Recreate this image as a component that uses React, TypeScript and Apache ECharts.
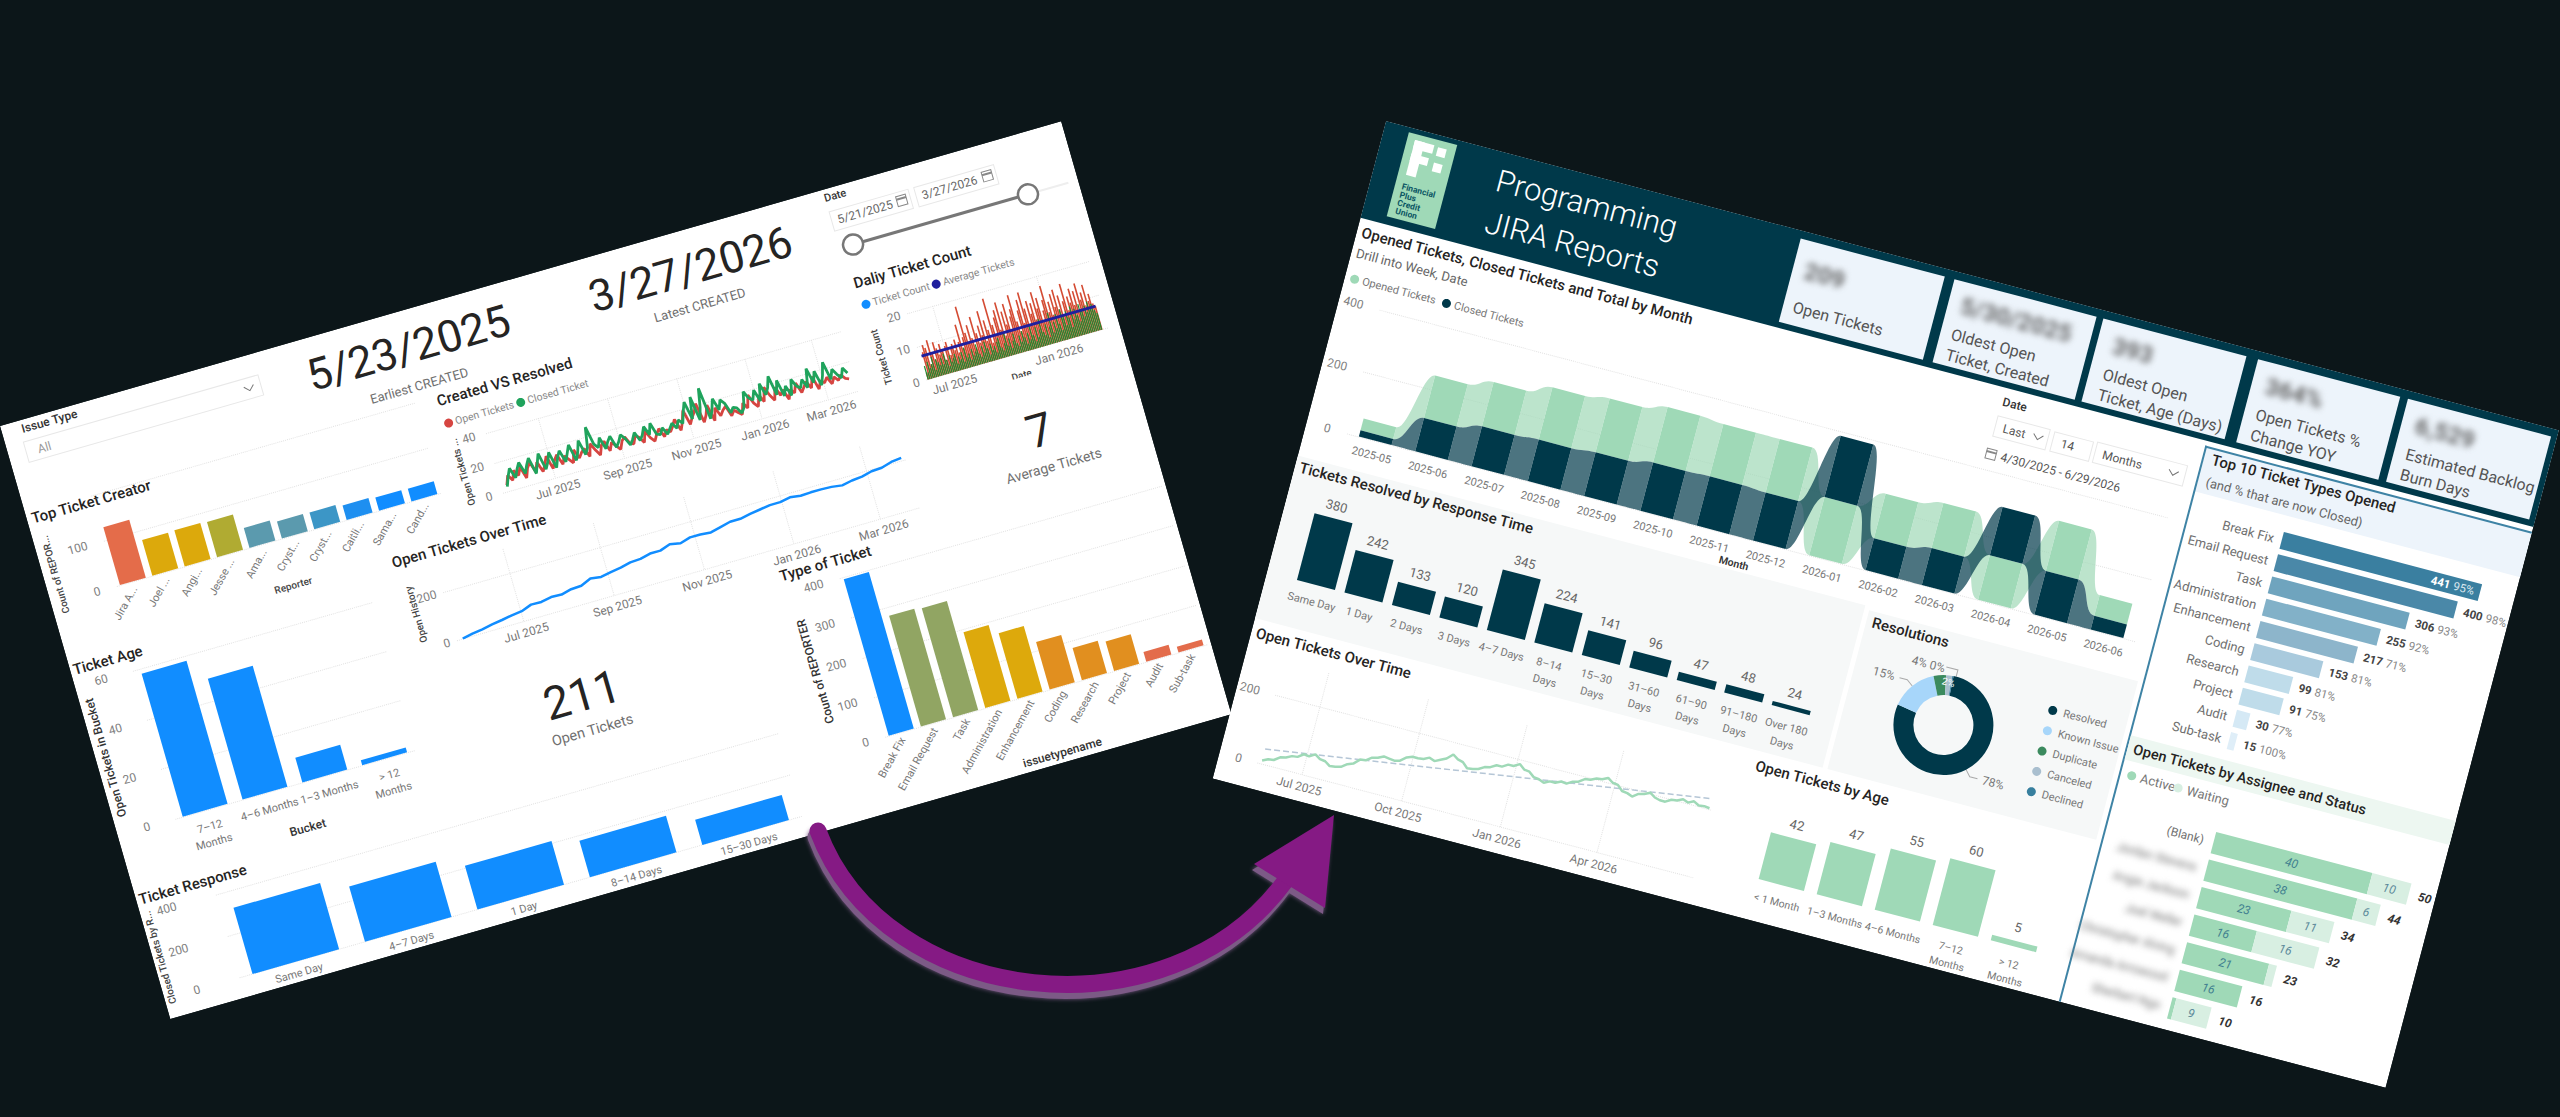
import React, { useEffect, useRef } from "react";
import * as echarts from "echarts";

// ---------- data: left dashboard ----------
const creatorNames = ["Jira A...", "Joel ...", "Angi...", "Jesse ...", "Ama...", "Cryst...", "Cryst...", "Caitli...", "Sama...", "Cand..."];
const creatorValues = [128, 79, 80, 78, 44, 38, 37, 32, 29, 28];
const creatorColors = ["#E46C4A", "#DCA90C", "#DCA90C", "#B0AB32", "#5B9AAE", "#5B9AAE", "#3C96C6", "#1E8FF0", "#118DFF", "#118DFF"];

const ticketTypeNames = ["Break Fix", "Email Request", "Task", "Administration", "Enhancement", "Coding", "Research", "Project", "Audit", "Sub-task"];
const ticketTypeValues = [396, 280, 276, 192, 166, 120, 82, 75, 25, 15];
const ticketTypeColors = ["#118DFF", "#91A563", "#91A563", "#DDA90C", "#DDA90C", "#E18F1F", "#E18F1F", "#E18F1F", "#E36C4B", "#E36C4B"];

const ageBuckets = ["7–12\nMonths", "4–6 Months", "1–3 Months", "> 12\nMonths"];
const ageValues = [58, 49, 10, 2];

const responseBuckets = ["Same Day", "4–7 Days", "1 Day", "8–14 Days", "15–30 Days"];
const responseValues = [319, 266, 210, 176, 121];

const createdLine = [
  4, 10, 6, 12, 8, 13, 5, 11, 14, 7, 13, 6, 10, 15, 6, 11, 14, 7, 12, 9, 6, 14, 8, 11, 13, 7, 15, 10, 6, 12,
  14, 7, 12, 9, 6, 11, 13, 8, 7, 12, 10, 6, 13, 8, 5, 9, 12, 6, 10, 8, 11, 15, 7, 12, 19, 9, 13, 16, 21, 8,
  12, 18, 7, 15, 9, 12, 14, 7, 10, 8, 6, 13, 9, 17, 11, 8, 15, 10, 19, 13, 9, 17, 11, 14, 7, 13, 10, 16, 9, 12,
  15, 10, 17, 8, 13, 11, 14, 9, 13, 10, 13, 10, 9,
];
const resolvedLine = [
  3, 9, 14, 7, 12, 16, 8, 13, 17, 6, 12, 18, 7, 11, 17, 6, 12, 16, 8, 13, 18, 7, 12, 19, 9, 13, 26, 14, 11, 17,
  9, 13, 16, 8, 11, 15, 12, 7, 10, 14, 8, 11, 16, 10, 17, 9, 8, 12, 7, 10, 13, 9, 14, 11, 18, 24, 12, 26, 10, 18,
  30, 9, 14, 21, 13, 19, 16, 9, 12, 11, 7, 10, 20, 15, 13, 19, 11, 22, 14, 18, 25, 12, 21, 10, 16, 9, 19, 14, 12, 17,
  11, 23, 13, 20, 10, 16, 24, 12, 18, 14, 11, 17, 13,
];
const openHistory = [
  0, 8, 14, 22, 28, 35, 40, 55, 54, 62, 60, 70, 72, 90, 84, 92, 98, 108, 110, 120, 120, 134, 126, 138, 138, 134,
  144, 154, 154, 162, 168, 174, 174, 182, 176, 178, 178, 176, 170, 178, 182, 192, 194, 206, 211,
];
const dailyOpened = [
  2, 8, 10, 9, 4, 11, 7, 5, 10, 8, 6, 9, 7, 4, 8, 9, 5, 7, 8, 6, 9, 5, 8, 13, 6, 9, 18, 10, 7, 12,
  8, 5, 14, 9, 6, 11, 8, 15, 6, 12, 9, 5, 18, 10, 7, 12, 14, 8, 16, 6, 13, 9, 15, 7, 11, 13, 17, 9, 6, 12,
  15, 8, 17, 12, 7, 14, 10, 13, 8, 16, 11, 14, 7, 10, 13, 17, 9, 12, 8, 14, 10, 15, 9, 13, 7, 11, 16, 8, 12, 10,
  14, 9, 13, 7, 15, 10, 12, 8, 14, 9, 11, 8, 7,
];
const dailyClosed = [
  4, 2, 5, 3, 4, 6, 2, 5, 4, 3, 5, 3, 6, 4, 2, 5, 3, 4, 5, 2, 4, 3, 5, 2, 6, 3, 4, 2, 5, 3,
  4, 6, 3, 2, 5, 3, 6, 4, 2, 5, 3, 4, 2, 5, 6, 3, 2, 4, 7, 3, 5, 2, 4, 6, 3, 2, 5, 3, 6, 4,
  2, 5, 3, 7, 4, 2, 6, 3, 5, 8, 4, 3, 6, 2, 5, 9, 3, 6, 4, 8, 5, 3, 9, 7, 4, 8, 6, 3, 9, 5,
  8, 6, 4, 9, 7, 5, 8, 6, 9, 7, 8, 6, 5,
];
const dailyAverage = [7, 7];

// ---------- data: right dashboard ----------
const months = ["2025-05", "2025-06", "2025-07", "2025-08", "2025-09", "2025-10", "2025-11", "2025-12", "2026-01", "2026-02", "2026-03", "2026-04", "2026-05", "2026-06"];
const openedMonthly = [38, 137, 143, 169, 174, 179, 169, 173, 188, 144, 146, 144, 162, 67];
const closedMonthly = [20, 108, 129, 134, 141, 156, 159, 155, 198, 103, 119, 156, 141, 44];

const resolvedBuckets = ["Same Day", "1 Day", "2 Days", "3 Days", "4–7 Days", "8–14\nDays", "15–30\nDays", "31–60\nDays", "61–90\nDays", "91–180\nDays", "Over 180\nDays"];
const resolvedValues = [380, 242, 133, 120, 345, 224, 141, 96, 47, 48, 24];

const resolutionNames = ["Resolved", "Known Issue", "Duplicate", "Canceled", "Declined"];
const resolutionValues = [78, 15, 4, 2, 0.4];
const resolutionColors = ["#00394A", "#A7D6FA", "#3B8A5E", "#A9BFCF", "#377F9E"];

const openAgeBuckets = ["< 1 Month", "1–3 Months", "4–6 Months", "7–12\nMonths", "> 12\nMonths"];
const openAgeValues = [42, 47, 55, 60, 5];

const topTypeNames = ["Break Fix", "Email Request", "Task", "Administration", "Enhancement", "Coding", "Research", "Project", "Audit", "Sub-task"];
const topTypeValues = [441, 400, 306, 255, 217, 153, 99, 91, 30, 15];
const topTypePercents = [95, 98, 93, 92, 71, 81, 81, 75, 77, 100];
const topTypeColors = ["#3A7FA0", "#4A88A8", "#6FA4BE", "#82B1C8", "#8DB5CB", "#A9CADD", "#BFDCEA", "#BFDCEA", "#D5E9F5", "#DFEEF8"];

const assignees = ["(Blank)", "Jordan Stevens", "Angie Jackson", "Joel Weller", "Christopher Alving", "Amanda Arrowood", "Sherbert Ngo"];
const assigneeActive = [40, 38, 23, 16, 21, 16, 1];
const assigneeWaiting = [10, 6, 11, 16, 2, 0, 9];
const assigneeTotals = [50, 44, 34, 32, 23, 16, 10];

const openOverTime = [
  10, 18, 20, 32, 36, 44, 46, 58, 56, 66, 56, 54, 44, 46, 50, 62, 68, 84, 86, 98, 102, 110, 108, 106, 110, 124, 130, 130, 132, 140,
  134, 142, 150, 166, 156, 152, 138, 140, 144, 154, 158, 168, 168, 178, 178, 188, 176, 174, 162, 160, 154, 162, 162, 170, 168, 178,
  182, 194, 196, 204, 206, 214, 204, 202, 188, 186, 180, 192, 196, 204, 194, 190, 190, 200, 202, 210, 204, 212, 204, 206, 204,
];
const openTrend = [44, 232];

const kpiValues = ["209", "5/30/2025", "393", "364%", "6,529"];
const blurredTexts = new Set([...kpiValues, ...assignees.slice(1)]);

// ---------- helpers ----------
const FONT = "Roboto";
const DAY = 86400000;
const MON = ["Jan", "Feb", "Mar", "Apr", "May", "Jun", "Jul", "Aug", "Sep", "Oct", "Nov", "Dec"];
const d = (y: number, m: number, day: number) => new Date(y, m - 1, day).getTime();
const monthLabel = (v: number) => {
  const t = new Date(v);
  return MON[t.getMonth()] + " " + t.getFullYear();
};
const dated = (start: number, step: number, vals: number[]) => vals.map((v, i) => [start + i * step * DAY, v]);

type P = { grid: any[]; xAxis: any[]; yAxis: any[]; series: any[]; graphic: any[] };
const newPanel = (): P => ({ grid: [], xAxis: [], yAxis: [], series: [], graphic: [] });

const T = (p: P, x: number, y: number, text: string, o: any = {}) =>
  p.graphic.push({
    type: "text",
    x,
    y,
    rotation: o.rot || 0,
    silent: true,
    z: o.z || 0,
    style: {
      text,
      fontFamily: FONT,
      fontSize: o.size || 12,
      fontWeight: o.weight || 400,
      fill: o.color || "#666666",
      align: o.align || "left",
      verticalAlign: "middle",
    },
  });
const R = (p: P, x: number, y: number, width: number, height: number, fill: string, stroke?: string, z = 0) =>
  p.graphic.push({ type: "rect", silent: true, z, shape: { x, y, width, height }, style: { fill, stroke: stroke || "none", lineWidth: stroke ? 1 : 0 } });
const C = (p: P, cx: number, cy: number, r: number, fill: string, stroke?: string, lw = 2) =>
  p.graphic.push({ type: "circle", silent: true, z: 1, shape: { cx, cy, r }, style: { fill, stroke: stroke || "none", lineWidth: stroke ? lw : 0 } });
const L = (p: P, x1: number, y1: number, x2: number, y2: number, stroke: string, lineWidth = 1) =>
  p.graphic.push({ type: "line", silent: true, shape: { x1, y1, x2, y2 }, style: { stroke, lineWidth } });
const Chevron = (p: P, x: number, y: number) =>
  p.graphic.push({
    type: "polyline",
    silent: true,
    shape: { points: [[x - 5, y - 3], [x, y + 2], [x + 5, y - 3]] },
    style: { stroke: "#777", lineWidth: 1, fill: "none" },
  });
const Calendar = (p: P, x: number, y: number) => {
  R(p, x - 5, y - 5, 10, 10, "#ffffff", "#888888");
  L(p, x - 5, y - 2, x + 5, y - 2, "#888888", 2);
};
const addGrid = (p: P, g: any, x: any, y: any) => {
  const i = p.grid.length;
  p.grid.push({ ...g });
  p.xAxis.push({ gridIndex: i, ...x });
  p.yAxis.push({ gridIndex: i, ...y });
  return i;
};
const dotted = { lineStyle: { type: "dotted", color: "#e2e2e2", width: 1 } };
const yVal = (max: number, interval: number, margin: number) => {
  const hide = max % interval !== 0;
  return {
    type: "value",
    min: 0,
    max,
    interval,
    axisLabel: { color: "#808080", fontSize: 12, fontFamily: FONT, margin, showMaxLabel: !hide },
    splitLine: { show: true, showMaxLine: !hide, ...dotted },
    axisLine: { show: false },
    axisTick: { show: false },
  };
};
const xCat = (data: string[], o: any = {}) => ({
  type: "category",
  data,
  axisLine: { show: false },
  axisTick: { show: false },
  axisLabel: { interval: 0, color: "#777777", fontSize: 12, fontFamily: FONT, lineHeight: 16, margin: 8, ...o },
});
const xTime = (min: number, max: number, ticks: number[]) => ({
  type: "value",
  min,
  max,
  scale: true,
  axisLine: { show: false },
  axisTick: { show: false, customValues: ticks },
  axisLabel: { customValues: ticks, formatter: (v: number) => monthLabel(v), color: "#777777", fontSize: 12, fontFamily: FONT, margin: 6, hideOverlap: false },
  splitLine: { show: true, ...dotted },
});
const hiddenY = (max: number) => ({ type: "value", min: 0, max, show: false, splitLine: { show: false } });
const coloured = (vals: number[], colors: string[]) => vals.map((value, i) => ({ value, itemStyle: { color: colors[i] } }));

// ---------- left panel ----------
function buildLeft() {
  const p = newPanel();
  const title = (x: number, y: number, s: string) => T(p, x, y, s, { size: 15, weight: 500, color: "#252423" });

  T(p, 20, 9, "Issue Type", { size: 12, weight: 500, color: "#333" });
  R(p, 18, 22, 244, 21, "#ffffff", "#e8e8e8");
  T(p, 30, 33, "All", { size: 12, color: "#999" });
  Chevron(p, 250, 33);

  T(p, 414, 38, "5/23/2025", { size: 44, align: "center", color: "#252423" });
  T(p, 414, 77, "Earliest CREATED", { size: 13, align: "center", color: "#707070" });
  T(p, 707, 40, "3/27/2026", { size: 44, align: "center", color: "#252423" });
  T(p, 706, 77, "Latest CREATED", { size: 13, align: "center", color: "#707070" });

  T(p, 855, 9, "Date", { size: 11, weight: 500, color: "#333" });
  R(p, 856, 23, 82, 20, "#ffffff", "#e8e8e8");
  R(p, 944, 23, 83, 20, "#ffffff", "#e8e8e8");
  T(p, 862, 33, "5/21/2025", { size: 12, color: "#666" });
  T(p, 950, 33, "3/27/2026", { size: 12, color: "#666" });
  Calendar(p, 929, 32);
  Calendar(p, 1018, 32);
  L(p, 1052, 61, 1094, 61, "#eeeeee", 2);
  L(p, 870, 61, 1052, 61, "#777777", 3);
  C(p, 870, 61, 10, "#ffffff", "#777777", 2.5);
  C(p, 1052, 61, 10, "#ffffff", "#777777", 2.5);

  // Created VS Resolved
  title(427, 97, "Created VS Resolved");
  C(p, 432, 121, 4.5, "#D64541");
  T(p, 439, 121, "Open Tickets", { size: 10.5, color: "#888" });
  C(p, 507, 121, 4.5, "#1FA35C");
  T(p, 514, 121, "Closed Ticket", { size: 10.5, color: "#888" });
  T(p, 432, 172, "Open Tickets ...", { size: 10, weight: 500, color: "#444", rot: Math.PI / 2, align: "center" });
  const lineStart = d(2025, 5, 21);
  const g1 = addGrid(
    p,
    { left: 465, top: 141, width: 370, height: 62 },
    xTime(lineStart - 5 * DAY, lineStart + 311 * DAY, [d(2025, 7, 1), d(2025, 9, 1), d(2025, 11, 1), d(2026, 1, 1), d(2026, 3, 1)]),
    yVal(40, 20, 11)
  );
  p.series.push(
    { type: "line", xAxisIndex: g1, yAxisIndex: g1, data: dated(lineStart, 3, createdLine), showSymbol: false, lineStyle: { color: "#D64541", width: 2.8 }, itemStyle: { color: "#D64541" } },
    { type: "line", xAxisIndex: g1, yAxisIndex: g1, data: dated(lineStart, 3, resolvedLine), showSymbol: false, lineStyle: { color: "#1FA35C", width: 2.8 }, itemStyle: { color: "#1FA35C" } }
  );

  // Top Ticket Creator
  title(5, 98, "Top Ticket Creator");
  const g2 = addGrid(p, { left: 68, top: 92, width: 337, height: 94 }, xCat(creatorNames, { rotate: 45, fontSize: 11, margin: 6 }), yVal(200, 100, 17));
  p.yAxis[g2].axisLabel.formatter = (v: number) => (v > 100 ? "" : String(v));
  p.series.push({ type: "bar", xAxisIndex: g2, yAxisIndex: g2, data: coloured(creatorValues, creatorColors), barCategoryGap: "20%" });
  T(p, 238, 234, "Reporter", { size: 10, weight: 500, align: "center", color: "#444" });
  T(p, 12, 158, "Count of REPOR...", { size: 10, weight: 500, color: "#444", rot: Math.PI / 2, align: "center" });

  // Open Tickets Over Time
  title(339, 240, "Open Tickets Over Time");
  T(p, 348, 296, "Open History", { size: 10, weight: 500, color: "#444", rot: Math.PI / 2, align: "center" });
  const g3 = addGrid(
    p,
    { left: 380, top: 257, width: 482, height: 75 },
    xTime(lineStart - 4 * DAY, lineStart + 311 * DAY, [d(2025, 7, 1), d(2025, 9, 1), d(2025, 11, 1), d(2026, 1, 1), d(2026, 3, 1)]),
    yVal(300, 200, 7)
  );
  p.series.push({ type: "line", xAxisIndex: g3, yAxisIndex: g3, data: dated(lineStart, 7, openHistory), showSymbol: false, lineStyle: { color: "#118DFF", width: 2.5 } });

  // Daily Ticket Count
  T(p, 860, 99, "Daliy Ticket Count", { size: 15, weight: 500, color: "#252423" });
  C(p, 866, 122, 4.5, "#118DFF");
  T(p, 873, 122, "Ticket Count", { size: 10.5, color: "#888" });
  C(p, 939, 122, 4.5, "#1F1F9E");
  T(p, 946, 122, "Average Tickets", { size: 10.5, color: "#888" });
  T(p, 866, 177, "Ticket Count", { size: 10, weight: 500, color: "#444", rot: Math.PI / 2, align: "center" });
  const g4 = addGrid(
    p,
    { left: 903, top: 142, width: 189, height: 69.5 },
    xTime(lineStart - 3.4 * DAY, lineStart + 317 * DAY, [d(2025, 7, 1), d(2026, 1, 1)]),
    yVal(20, 10, 7)
  );
  p.series.push(
    { type: "bar", xAxisIndex: g4, yAxisIndex: g4, data: dated(lineStart, 3, dailyOpened), barWidth: 1.6, barGap: "-100%", itemStyle: { color: "#D44B33" } },
    { type: "bar", xAxisIndex: g4, yAxisIndex: g4, data: dated(lineStart, 3, dailyClosed), barWidth: 1.2, barGap: "-100%", itemStyle: { color: "#1F8A2E" } },
    { type: "line", xAxisIndex: g4, yAxisIndex: g4, data: dated(lineStart, 307, dailyAverage), showSymbol: false, lineStyle: { color: "#1F1F9E", width: 3 } }
  );
  T(p, 996, 233, "Date", { size: 10, weight: 500, align: "center", color: "#444" });
  R(p, 975, 235, 45, 8, "#ffffff", undefined, 10);

  T(p, 998, 291, "7", { size: 46, align: "center", color: "#252423" });
  T(p, 1002, 329, "Average Tickets", { size: 14, align: "center", color: "#707070" });
  T(p, 485, 419, "211", { size: 46, align: "center", color: "#252423" });
  T(p, 485.6, 456, "Open Tickets", { size: 14.5, align: "center", color: "#707070" });

  // Ticket Age
  title(3, 255, "Ticket Age");
  T(p, 10, 348, "Open Tickets in Bucket", { size: 12, weight: 500, color: "#333", rot: Math.PI / 2, align: "center" });
  const g5 = addGrid(p, { left: 60, top: 272, width: 249, height: 154 }, xCat(ageBuckets, { fontSize: 11, margin: 9 }), yVal(60, 20, 26));
  p.series.push({ type: "bar", xAxisIndex: g5, yAxisIndex: g5, data: ageValues, barCategoryGap: "25%", itemStyle: { color: "#118DFF" } });
  T(p, 185, 471, "Bucket", { size: 12, weight: 500, align: "center", color: "#333" });

  // Ticket Response
  title(3, 494, "Ticket Response");
  T(p, 7, 555, "Closed Tickets by R...", { size: 10, weight: 500, color: "#444", rot: Math.PI / 2, align: "center" });
  const g6 = addGrid(p, { left: 78, top: 510, width: 585, height: 86.5 }, xCat(responseBuckets, { fontSize: 11, margin: 4 }), yVal(400, 200, 41));
  p.series.push({ type: "bar", xAxisIndex: g6, yAxisIndex: g6, data: responseValues, barCategoryGap: "23%", itemStyle: { color: "#118DFF" } });

  // Type of Ticket
  title(708, 360, "Type of Ticket");
  T(p, 716, 461, "Count of REPORTER", { size: 12, weight: 500, color: "#333", rot: Math.PI / 2, align: "center" });
  const g7 = addGrid(p, { left: 765, top: 378.5, width: 335, height: 164.5 }, xCat(ticketTypeNames, { rotate: 45, fontSize: 11, margin: 6 }), yVal(400, 100, 17));
  p.series.push({ type: "bar", xAxisIndex: g7, yAxisIndex: g7, data: coloured(ticketTypeValues, ticketTypeColors), barCategoryGap: "22%" });
  T(p, 931, 607, "issuetypename", { size: 12, weight: 500, align: "center", color: "#333" });

  return { animation: false, backgroundColor: "#ffffff", ...p };
}

// ---------- right panel ----------
function ribbonItem(params: any, api: any) {
  const i = params.dataIndex;
  const band = api.size([1, 0])[0];
  const w = band * 0.58;
  const spans = (k: number) => {
    const o = openedMonthly[k];
    const c = closedMonthly[k];
    return o < c ? { opened: [0, o], closed: [o, o + c] } : { opened: [c, c + o], closed: [0, c] };
  };
  const children: any[] = [];
  const draw = (key: "opened" | "closed", solid: string, soft: string) => {
    const here = (spans(i) as any)[key];
    const [cx, y0] = api.coord([i, here[0]]);
    const y1 = api.coord([i, here[1]])[1];
    if (i < months.length - 1) {
      const next = (spans(i + 1) as any)[key];
      const [nx, ny0] = api.coord([i + 1, next[0]]);
      const ny1 = api.coord([i + 1, next[1]])[1];
      const a = cx + w / 2;
      const b = nx - w / 2;
      const m = (a + b) / 2;
      children.push({
        type: "path",
        shape: { pathData: `M${a} ${y1}C${m} ${y1} ${m} ${ny1} ${b} ${ny1}L${b} ${ny0}C${m} ${ny0} ${m} ${y0} ${a} ${y0}Z` },
        style: { fill: soft },
      });
    }
    children.push({ type: "rect", shape: { x: cx - w / 2, y: y1, width: w, height: y0 - y1 }, style: { fill: solid } });
  };
  draw("opened", "#9FD9B7", "rgba(159,217,183,0.7)");
  draw("closed", "#00394A", "rgba(0,57,74,0.7)");
  return { type: "group", children };
}

function buildRight() {
  const p = newPanel();
  const title = (x: number, y: number, s: string) => T(p, x, y, s, { size: 15, weight: 500, color: "#252423" });

  // header
  R(p, 0, 0, 1213, 100, "#00394A");
  R(p, 25, 5, 50, 87, "#9FD9B7");
  R(p, 33, 11, 10, 36, "#ffffff");
  R(p, 33, 11, 20, 9, "#ffffff");
  R(p, 33, 25, 18, 8, "#ffffff");
  R(p, 57, 12, 9, 9, "#ffffff");
  R(p, 57, 28, 9, 9, "#ffffff");
  ["Financial", "Plus", "Credit", "Union"].forEach((s, i) => T(p, 32, 59 + i * 8.4, s, { size: 8.5, weight: 700, color: "#0B5563" }));
  T(p, 122, 29, "Programming", { size: 31, weight: 300, color: "#ffffff" });
  T(p, 122, 72, "JIRA Reports", { size: 31, weight: 300, color: "#ffffff" });

  const cardX = [[431, 580], [590, 737], [744, 892], [904, 1051], [1059, 1207]];
  const cardText = [["Open Tickets"], ["Oldest Open", "Ticket, Created"], ["Oldest Open", "Ticket, Age (Days)"], ["Open Tickets %", "Change YOY"], ["Estimated Backlog", "Burn Days"]];
  const kpiX = [443, 603, 760, 918, 1073];
  cardX.forEach(([a, b], i) => {
    R(p, a, 8, b - a, 86, "#EDF4FB");
    T(p, kpiX[i], i === 0 ? 38 : 32, kpiValues[i], { size: 24, weight: 700, color: "#666" });
    cardText[i].forEach((s, j) => T(p, kpiX[i] - 2, (i === 0 ? 76 : 62) + j * 21, s, { size: 16, color: "#555" }));
  });

  // Ribbon
  title(5, 114, "Opened Tickets, Closed Tickets and Total by Month");
  T(p, 5, 135, "Drill into Week, Date", { size: 13, color: "#666" });
  C(p, 10, 161, 4.5, "#9FD9B7");
  T(p, 18, 161, "Opened Tickets", { size: 11, color: "#777" });
  C(p, 105, 161, 4.5, "#00394A");
  T(p, 113, 161, "Closed Tickets", { size: 11, color: "#777" });
  const g1 = addGrid(p, { left: 42, top: 184, width: 815, height: 128 }, xCat(months, { fontSize: 11, margin: 7 }), yVal(400, 200, 17));
  p.series.push({ type: "custom", xAxisIndex: g1, yAxisIndex: g1, data: months.map((_, i) => [i]), renderItem: ribbonItem, clip: false, silent: true });
  T(p, 449, 339, "Month", { size: 10.5, weight: 600, align: "center", color: "#333" });

  // date slicer
  T(p, 668, 114, "Date", { size: 12, weight: 500, color: "#333" });
  R(p, 667, 129, 54, 21, "#ffffff", "#e8e8e8");
  R(p, 726, 130, 40, 20, "#ffffff", "#e8e8e8");
  R(p, 770, 129, 93, 21, "#ffffff", "#e8e8e8");
  T(p, 675, 140, "Last", { size: 12, color: "#555" });
  Chevron(p, 711, 140);
  T(p, 735, 140, "14", { size: 12, color: "#555" });
  T(p, 778, 140, "Months", { size: 12, color: "#555" });
  Chevron(p, 851, 140);
  Calendar(p, 670, 168);
  T(p, 680, 168, "4/30/2025 - 6/29/2026", { size: 12, color: "#555" });

  // Resolved by response time
  R(p, 0, 346, 587, 168, "#F6F8F8");
  R(p, 592, 350, 278, 164, "#F6F8F8");
  title(5, 357, "Tickets Resolved by Response Time");
  const g2 = addGrid(p, { left: 26, top: 397.5, width: 540, height: 69 }, xCat(resolvedBuckets, { fontSize: 11, lineHeight: 17, margin: 9 }), hiddenY(380));
  p.series.push({
    type: "bar",
    xAxisIndex: g2,
    yAxisIndex: g2,
    data: resolvedValues,
    barCategoryGap: "20%",
    itemStyle: { color: "#00394A" },
    label: { show: true, position: "top", color: "#666", fontSize: 13, fontFamily: FONT, distance: 6 },
  });

  // Resolutions
  title(598, 361, "Resolutions");
  p.series.push({
    type: "pie",
    center: [693, 442],
    radius: [30, 50],
    startAngle: 93,
    avoidLabelOverlap: false,
    label: { color: "#777", fontSize: 12, fontFamily: FONT, formatter: (a: any) => Math.round(a.value) + "%" },
    labelLine: { length: 8, length2: 8, lineStyle: { color: "#aaa" } },
    data: resolutionNames.map((name, i) => ({
      name,
      value: resolutionValues[i],
      itemStyle: { color: resolutionColors[i] },
      ...(i === 3 ? { label: { position: "inside", color: "#fff", fontSize: 10 }, labelLine: { show: false } } : {}),
      ...(i === 2 || i === 4 ? { label: { show: false }, labelLine: { show: false } } : {}),
    })),
  });
  T(p, 663, 387, "4% 0%", { size: 12, align: "center", color: "#777" });
  p.graphic.push({ type: "polyline", silent: true, shape: { points: [[681, 385], [693, 385], [693, 392]] }, style: { stroke: "#aaa", lineWidth: 1, fill: "none" } });
  resolutionNames.forEach((s, i) => {
    C(p, 795, 400 + i * 21, 4.5, resolutionColors[i]);
    T(p, 806, 400 + i * 21, s, { size: 11, color: "#777" });
  });

  // Open Tickets Over Time
  title(5, 528, "Open Tickets Over Time");
  const start = d(2025, 5, 24);
  const g3 = addGrid(
    p,
    { left: 38, top: 548.5, width: 452, height: 105 },
    xTime(start - 3.6 * DAY, start + 401.8 * DAY, [d(2025, 7, 1), d(2025, 10, 1), d(2026, 1, 1), d(2026, 4, 1)]),
    yVal(300, 200, 16)
  );
  p.series.push(
    { type: "line", xAxisIndex: g3, yAxisIndex: g3, data: dated(start, 400, openTrend), showSymbol: false, lineStyle: { color: "#B5C6D6", width: 1.5, type: "dashed" } },
    { type: "line", xAxisIndex: g3, yAxisIndex: g3, data: dated(start, 5, openOverTime), showSymbol: false, lineStyle: { color: "#9FD9B7", width: 2.5 } }
  );

  // Open Tickets by Age
  title(522, 529, "Open Tickets by Age");
  const g4 = addGrid(p, { left: 547, top: 569, width: 300, height: 69 }, xCat(openAgeBuckets, { fontSize: 10.5, margin: 10 }), hiddenY(60));
  p.series.push({
    type: "bar",
    xAxisIndex: g4,
    yAxisIndex: g4,
    data: openAgeValues,
    barCategoryGap: "22%",
    itemStyle: { color: "#9FD9B7" },
    label: { show: true, position: "top", color: "#666", fontSize: 13, fontFamily: FONT, distance: 7 },
  });

  // Top 10
  R(p, 877, 106, 336, 46, "#EDF4FB");
  R(p, 875, 105, 2, 575, "#3E83A5");
  R(p, 875, 105, 338, 2, "#3E83A5");
  T(p, 885, 117, "Top 10 Ticket Types Opened", { size: 15, weight: 500, color: "#252423" });
  T(p, 885, 140, "(and % that are now Closed)", { size: 13, color: "#666" });
  const catY = (names: string[], margin: number) => ({
    type: "category",
    data: names,
    inverse: true,
    axisLine: { show: false },
    axisTick: { show: false },
    axisLabel: { interval: 0, color: "#707070", fontSize: 13, fontFamily: FONT, margin },
  });
  const g5 = addGrid(p, { left: 973, top: 165.7, width: 205, height: 230 }, { type: "value", min: 0, max: 441, show: false, splitLine: { show: false } }, catY(topTypeNames, 8));
  p.series.push({
    type: "bar",
    xAxisIndex: g5,
    yAxisIndex: g5,
    barCategoryGap: "24%",
    data: topTypeValues.map((value, i) => ({
      value,
      itemStyle: { color: topTypeColors[i] },
      label: {
        show: true,
        position: i === 0 ? "insideRight" : "right",
        distance: i === 0 ? 6 : 8,
        formatter: `{${i === 0 ? "w" : "v"}|${value}} {${i === 0 ? "q" : "p"}|${topTypePercents[i]}%}`,
        rich: {
          v: { fontWeight: 700, color: "#444", fontSize: 11.5, fontFamily: FONT },
          p: { color: "#888", fontSize: 11.5, fontFamily: FONT },
          w: { fontWeight: 700, color: "#fff", fontSize: 11.5, fontFamily: FONT },
          q: { color: "#dbe8ef", fontSize: 11.5, fontFamily: FONT },
        },
      },
    })),
  });

  // Assignee
  R(p, 877, 404, 336, 25, "#EDF7F1");
  T(p, 883, 417, "Open Tickets by Assignee and Status", { size: 14.5, weight: 500, color: "#252423" });
  C(p, 888, 443, 4.5, "#9FD9B7");
  T(p, 897, 443, "Active", { size: 13, color: "#777" });
  C(p, 936, 443, 4.5, "#D8EFE2");
  T(p, 945, 443, "Waiting", { size: 13, color: "#777" });
  const g6 = addGrid(p, { left: 984, top: 472.5, width: 202, height: 199.5 }, { type: "value", min: 0, max: 50, show: false, splitLine: { show: false } }, catY(assignees, 10));
  p.yAxis[g6].axisLabel.fontSize = 12;
  const inner = { show: true, color: "#3F7F8F", fontSize: 12, fontStyle: "italic", fontFamily: FONT };
  p.series.push(
    {
      type: "bar",
      stack: "a",
      xAxisIndex: g6,
      yAxisIndex: g6,
      barCategoryGap: "23%",
      data: assigneeActive,
      itemStyle: { color: "#9FD9B7" },
      label: { ...inner, formatter: (a: any) => (a.value > 2 ? String(a.value) : "") },
    },
    {
      type: "bar",
      stack: "a",
      xAxisIndex: g6,
      yAxisIndex: g6,
      data: assigneeWaiting,
      itemStyle: { color: "#D8EFE2" },
      label: { ...inner, color: "#5C8A9A", formatter: (a: any) => (a.value > 2 ? String(a.value) : "") },
    },
    {
      type: "bar",
      stack: "a",
      xAxisIndex: g6,
      yAxisIndex: g6,
      data: assigneeTotals.map(() => 0),
      itemStyle: { color: "transparent" },
      label: {
        show: true,
        position: "right",
        distance: 10,
        color: "#333",
        fontWeight: 700,
        fontSize: 12,
        fontStyle: "italic",
        fontFamily: FONT,
        formatter: (a: any) => String(assigneeTotals[a.dataIndex]),
      },
    }
  );

  return { animation: false, backgroundColor: "#ffffff", ...p };
}

// ---------- arrow overlay ----------
function buildArrow() {
  const curve = (dx: number, dy: number, stroke: string, blur: number) => ({
    type: "bezierCurve",
    silent: true,
    shape: { x1: 818 + dx, y1: 831 + dy, cpx1: 885 + dx, cpy1: 1010 + dy, cpx2: 1170 + dx, cpy2: 1040 + dy, x2: 1286 + dx, y2: 880 + dy },
    style: { stroke, lineWidth: 17, lineCap: "round", fill: "none", shadowBlur: blur, shadowColor: stroke },
  });
  const head = (dx: number, dy: number, fill: string, blur: number) => ({
    type: "polygon",
    silent: true,
    shape: { points: [[1334 + dx, 815 + dy], [1325 + dx, 908 + dy], [1254 + dx, 864 + dy]] },
    style: { fill, shadowBlur: blur, shadowColor: fill },
  });
  return {
    animation: false,
    backgroundColor: "transparent",
    graphic: [curve(-2, 6, "#7C5A86", 4), head(-2, 6, "#7C5A86", 4), curve(0, 0, "#851A84", 0), head(0, 0, "#851A84", 0)],
  };
}

// ---------- component ----------
function Chart({ build, style }: { build: () => any; style: React.CSSProperties }) {
  const ref = useRef<HTMLDivElement>(null);
  useEffect(() => {
    const el = ref.current!;
    const chart = echarts.init(el, null, { renderer: "svg" });
    chart.setOption(build());
    const blur = () =>
      el.querySelectorAll("text").forEach((t) => {
        if (blurredTexts.has((t.textContent || "").trim())) (t as any).style.filter = "blur(3px)";
      });
    blur();
    const raf = requestAnimationFrame(blur);
    return () => {
      cancelAnimationFrame(raf);
      chart.dispose();
    };
  }, []);
  return <div ref={ref} style={{ position: "absolute", transformOrigin: "0 0", ...style }} />;
}

export default function App() {
  return (
    <div style={{ position: "fixed", left: 0, top: 0, width: 2560, height: 1117, background: "#0C1619", overflow: "hidden" }}>
      <Chart build={buildLeft} style={{ left: 0, top: 426, width: 1104, height: 617, transform: "rotate(-16.02deg)" }} />
      <Chart build={buildRight} style={{ left: 1386, top: 121, width: 1213, height: 680, transform: "rotate(14.77deg)" }} />
      <Chart build={buildArrow} style={{ left: 0, top: 0, width: 2560, height: 1117, pointerEvents: "none" }} />
    </div>
  );
}
